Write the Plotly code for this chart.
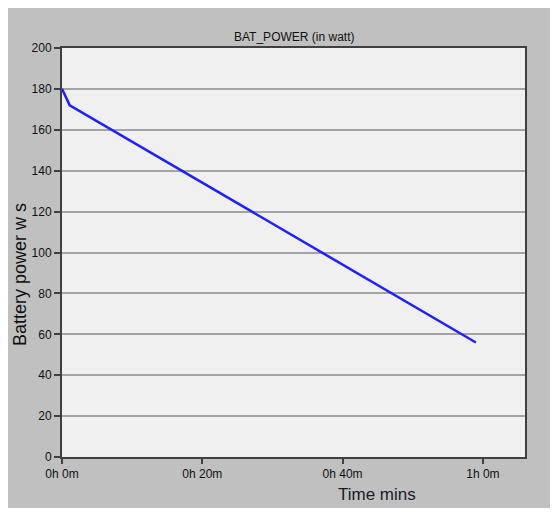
import plotly.graph_objects as go

time_min = [0, 1.1, 59]
power_w = [180, 172, 56]
x_tick_vals = [0, 20, 40, 60]
x_tick_text = ["0h 0m", "0h 20m", "0h 40m", "1h 0m"]
y_tick_vals = [0, 20, 40, 60, 80, 100, 120, 140, 160, 180, 200]

OFF = 8  # page body margin
W, H = 566 - OFF, 508 - OFF
L, R, T, B = 62 - OFF, 525 - OFF, 48 - OFF, 457 - OFF  # plot area in figure pixels

def px(x):
    return (x - OFF - L) / (R - L)

def py(y):
    return (B - (y - OFF)) / (B - T)

fig = go.Figure()
fig.add_trace(go.Scatter(x=time_min, y=power_w, mode="lines",
                         line=dict(color="#1f1fff", width=2.5), showlegend=False))

fig.update_layout(
    width=W, height=H,
    margin=dict(l=L, r=W - R, t=T, b=H - B, pad=0),
    paper_bgcolor="#c0c0c0",
    plot_bgcolor="#f0f0f0",
    font=dict(family="Arial, Liberation Sans, sans-serif", size=12, color="#111"),
    annotations=[
        dict(text="BAT_POWER (in watt)", xref="paper", yref="paper",
             x=0.5, y=py(37), showarrow=False, xanchor="center", yanchor="middle",
             font=dict(size=12, color="#111")),
        dict(text="Time mins", xref="paper", yref="paper",
             x=px(377), y=py(494), showarrow=False, xanchor="center", yanchor="middle",
             font=dict(family="Liberation Sans Narrow, Arial Narrow, Arial", size=17, color="#1a1a2a")),
        dict(text="Battery power w s", xref="paper", yref="paper",
             x=px(20), y=py(275), showarrow=False, xanchor="center", yanchor="middle",
             textangle=-90, font=dict(size=18, color="#111")),
    ],
)

fig.update_xaxes(range=[0, 66], tickvals=x_tick_vals, ticktext=x_tick_text,
                 showgrid=False, zeroline=False, showline=True, mirror=True,
                 linecolor="#404040", linewidth=2, ticks="outside", ticklen=5,
                 tickcolor="#404040", tickwidth=1.5, tickfont=dict(size=12, color="#111"))
fig.update_yaxes(range=[0, 200], tickvals=y_tick_vals,
                 showgrid=True, gridcolor="#a4a4a4", gridwidth=1.5,
                 zeroline=False, showline=True, mirror=True,
                 linecolor="#404040", linewidth=2, ticks="outside", ticklen=6,
                 tickcolor="#404040", tickwidth=1.5, tickfont=dict(size=12, color="#111"))

fig.write_html("out.html", post_script="document.documentElement.style.overflow='hidden';document.body.style.overflow='hidden';")
